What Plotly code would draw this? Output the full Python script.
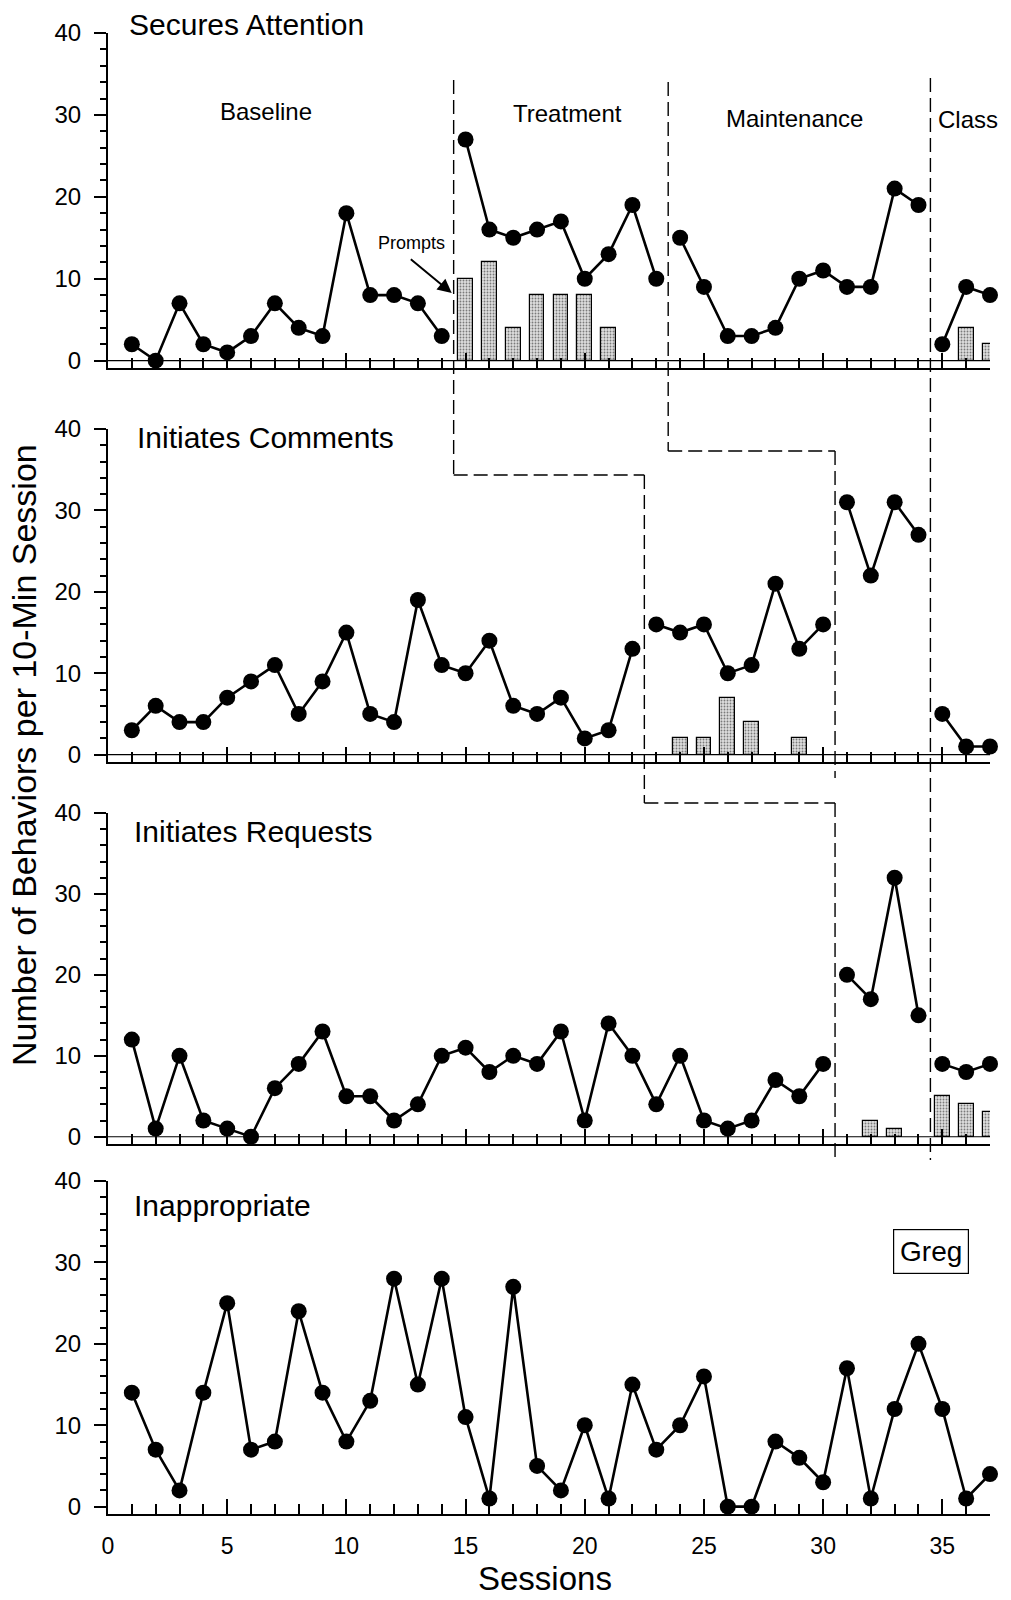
import plotly.graph_objects as go

# ---------------- data ----------------
sessions = list(range(1, 38))

secures_attention = [2, 0, 7, 2, 1, 3, 7, 4, 3, 18, 8, 8, 7, 3,
                     27, 16, 15, 16, 17, 10, 13, 19, 10,
                     15, 9, 3, 3, 4, 10, 11, 9, 9, 21, 19,
                     2, 9, 8]
secures_prompt_sessions = [15, 16, 17, 18, 19, 20, 21, 36, 37]
secures_prompt_values = [10, 12, 4, 8, 8, 8, 4, 4, 2]

initiates_comments = [3, 6, 4, 4, 7, 9, 11, 5, 9, 15, 5, 4, 19, 11, 10, 14, 6, 5, 7, 2, 3, 13,
                      16, 15, 16, 10, 11, 21, 13, 16,
                      31, 22, 31, 27,
                      5, 1, 1]
comments_prompt_sessions = [24, 25, 26, 27, 29]
comments_prompt_values = [2, 2, 7, 4, 2]

initiates_requests = [12, 1, 10, 2, 1, 0, 6, 9, 13, 5, 5, 2, 4, 10, 11, 8, 10, 9, 13, 2,
                      14, 10, 4, 10, 2, 1, 2, 7, 5, 9,
                      20, 17, 32, 15,
                      9, 8, 9]
requests_prompt_sessions = [32, 33, 35, 36, 37]
requests_prompt_values = [2, 1, 5, 4, 3]

inappropriate = [14, 7, 2, 14, 25, 7, 8, 24, 14, 8, 13, 28, 15, 28, 11, 1, 27, 5, 2, 10,
                 1, 15, 7, 10, 16, 0, 0, 8, 6, 3, 17, 1, 12, 20, 12, 1, 4]

# first session of each new phase (line breaks)
secures_breaks = [15, 24, 35]
comments_breaks = [23, 31, 35]
requests_breaks = [31, 35]
inappropriate_breaks = []

panel_titles = ["Secures Attention", "Initiates Comments", "Initiates Requests", "Inappropriate"]
phase_labels = ["Baseline", "Treatment", "Maintenance", "Class"]
x_ticks = [0, 5, 10, 15, 20, 25, 30, 35]
y_ticks = [0, 10, 20, 30, 40]

# ---------------- layout geometry (pixels) ----------------
W, H = 1011, 1600
X_LEFT, X_RIGHT = 108, 990
panel_px = [(33, 368), (429, 762), (813, 1144), (1181, 1514)]  # (top, bottom) pixel rows
YMIN = -0.9


def py(p):
    return 1 - p / H


def px(p):
    return p / W


FONT = "Liberation Sans, Arial, sans-serif"

fig = go.Figure()

panels = [
    (secures_attention, secures_breaks, secures_prompt_sessions, secures_prompt_values),
    (initiates_comments, comments_breaks, comments_prompt_sessions, comments_prompt_values),
    (initiates_requests, requests_breaks, requests_prompt_sessions, requests_prompt_values),
    (inappropriate, inappropriate_breaks, [], []),
]

for i, (vals, breaks, bx, bv) in enumerate(panels):
    n = i + 1
    xa = "x" if n == 1 else f"x{n}"
    ya = "y" if n == 1 else f"y{n}"
    if bx:
        fig.add_trace(go.Bar(
            x=bx, y=bv, width=0.62, xaxis=xa, yaxis=ya,
            marker=dict(color="#d6d6d6", line=dict(color="black", width=1.2),
                        pattern=dict(shape=".", fgcolor="#7a7a7a", bgcolor="#dedede",
                                     size=3, solidity=0.3)),
            hoverinfo="skip", showlegend=False))
    bounds = [1] + breaks + [38]
    for s, e in zip(bounds[:-1], bounds[1:]):
        fig.add_trace(go.Scatter(
            x=sessions[s - 1:e - 1], y=vals[s - 1:e - 1], xaxis=xa, yaxis=ya,
            mode="lines+markers",
            line=dict(color="black", width=2.6),
            marker=dict(color="black", size=16),
            hoverinfo="skip", showlegend=False, cliponaxis=False))

layout = dict(
    template="none",
    width=W, height=H, margin=dict(l=0, r=0, t=0, b=0, pad=0, autoexpand=False),
    paper_bgcolor="white", plot_bgcolor="white",
    font=dict(family=FONT, color="black"),
    bargap=0, showlegend=False,
)

for i in range(4):
    n = i + 1
    top, bot = panel_px[i]
    sfx = "" if n == 1 else str(n)
    layout[f"xaxis{sfx}"] = dict(
        domain=[px(X_LEFT), px(X_RIGHT)], range=[0, 37], anchor=f"y{sfx}",
        automargin=False,
        showline=True, linecolor="black", linewidth=2.2,
        ticks="inside", tickmode="array", tickvals=x_ticks,
        ticktext=[str(t) for t in x_ticks],
        ticklen=15, tickwidth=2, tickcolor="black",
        minor=dict(dtick=1, tick0=0, ticks="inside", ticklen=10, tickwidth=1.6, tickcolor="black",
                   showgrid=False),
        showgrid=False, zeroline=False, showticklabels=(n == 4),
        ticklabelstandoff=10,
        tickfont=dict(size=23, family=FONT, color="black"),
        fixedrange=True,
    )
    layout[f"yaxis{sfx}"] = dict(
        domain=[py(bot), py(top)], range=[YMIN, 40], anchor=f"x{sfx}",
        automargin=False,
        showline=True, linecolor="black", linewidth=2.2,
        ticks="outside", tickmode="array", tickvals=y_ticks,
        ticktext=[str(t) for t in y_ticks],
        ticklen=12, tickwidth=2, tickcolor="black",
        minor=dict(dtick=2, tick0=0, ticks="outside", ticklen=6, tickwidth=1.5, tickcolor="black",
                   showgrid=False),
        showgrid=False, zeroline=False,
        ticklabelstandoff=8,
        tickfont=dict(size=24, family=FONT, color="black"),
        fixedrange=True,
    )

fig.update_layout(**layout)

shapes = []
# thin zero lines in panels 1-3
for n in (1, 2, 3):
    sfx = "" if n == 1 else str(n)
    shapes.append(dict(type="line", xref=f"x{sfx}", yref=f"y{sfx}", x0=0, x1=37, y0=0, y1=0,
                       line=dict(color="black", width=1.1)))

DASH = dict(color="black", width=1.4, dash="14px,6px")


def vline(x, y0p, y1p):
    shapes.append(dict(type="line", xref="x", yref="paper", x0=x, x1=x, y0=py(y0p), y1=py(y1p), line=DASH))


def hline(xa, xb, yp):
    shapes.append(dict(type="line", xref="x", yref="paper", x0=xa, x1=xb, y0=py(yp), y1=py(yp), line=DASH))


# Baseline -> Treatment staircase
vline(14.5, 80, 475)
hline(14.5, 22.5, 475)
vline(22.5, 475, 803)
hline(22.5, 30.5, 803)
vline(30.5, 803, 1160)
# Treatment -> Maintenance staircase
vline(23.5, 82, 451)
hline(23.5, 30.5, 451)
vline(30.5, 451, 778)
# Class line
vline(34.5, 78, 1160)

fig.update_layout(shapes=shapes)

ann = []
title_pos = [(127, 24), (135, 437), (132, 831), (132, 1205)]
for t, (lx, cy) in zip(panel_titles, title_pos):
    ann.append(dict(text=t, xref="paper", yref="paper", x=px(lx), y=py(cy),
                    xanchor="left", yanchor="middle", showarrow=False,
                    font=dict(size=30, family=FONT, color="black")))

phase_pos = [(6.63, 30.4), (19.27, 30.2), (28.78, 29.6), (36.07, 29.4)]
for t, (xx, yy) in zip(phase_labels, phase_pos):
    ann.append(dict(text=t, xref="x", yref="y", x=xx, y=yy, xanchor="center", yanchor="middle",
                    showarrow=False, font=dict(size=24, family=FONT, color="black")))

ann.append(dict(text="Prompts", xref="x", yref="y", x=12.75, y=14.4, showarrow=False,
                xanchor="center", yanchor="middle", font=dict(size=18, family=FONT, color="black")))
ann.append(dict(text="", xref="x", yref="y", x=14.42, y=8.26, axref="x", ayref="y",
                ax=12.64, ay=12.52, showarrow=True, arrowhead=2, arrowsize=1.4,
                arrowwidth=2, arrowcolor="black", standoff=0))

ann.append(dict(text="Greg", xref="x4", yref="y4", x=34.52, y=31.35, showarrow=False,
                xanchor="center", yanchor="middle", bordercolor="black", borderwidth=1.2,
                width=66, height=35, borderpad=4, bgcolor="white",
                font=dict(size=28, family=FONT, color="black")))

ann.append(dict(text="Number of Behaviors per 10-Min Session", xref="paper", yref="paper",
                x=px(24), y=py(755), textangle=-90, showarrow=False,
                xanchor="center", yanchor="middle", font=dict(size=34, family=FONT, color="black")))
ann.append(dict(text="Sessions", xref="paper", yref="paper", x=px(545), y=py(1578),
                showarrow=False, xanchor="center", yanchor="middle",
                font=dict(size=33, family=FONT, color="black")))

fig.update_layout(annotations=ann)

fig.write_html("out.html")
